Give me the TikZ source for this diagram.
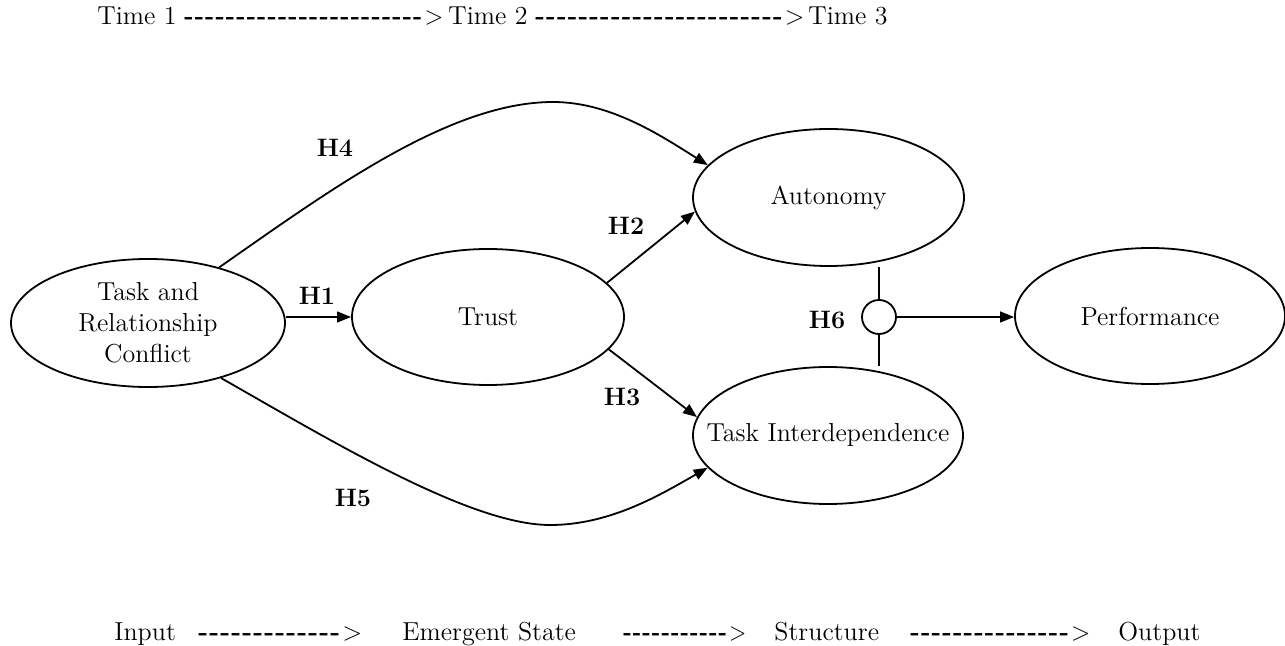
\documentclass[tikz,border=0pt]{standalone}
\usepackage{graphicx}
\usetikzlibrary{arrows.meta,shapes.geometric}
\newcommand\nodefont{\fontsize{13}{15.5}\selectfont}
\newcommand\labfont{\fontsize{12.6}{15.5}\selectfont\bfseries}
\newcommand\dashrow[2]{\resizebox{#1}{\height}{\textbf{\foreach \i in {1,...,#2}{-\kern0.6pt}}\kern0.5pt>}}
\begin{document}
\begin{tikzpicture}[x=0.5pt,y=-0.5pt,
  ell/.style={draw, ellipse, line width=0.9pt, inner sep=0pt, font=\nodefont, align=center},
  lab/.style={font=\labfont, inner sep=0pt},
  txt/.style={font=\nodefont, inner sep=0pt, anchor=base west},
  ln/.style={line width=0.9pt},
  conn/.style={line width=0.9pt, -{Triangle[length=7pt,width=5.4pt]}},
]
\useasboundingbox (0,0) rectangle (1285,646);
\fill[white] (0,0) rectangle (1285,646);

% ellipses
\node[ell, minimum width=137pt, minimum height=64pt] (conf) at (148,323) {Task and\\Relationship\\Conflict};
\node[ell, minimum width=136pt, minimum height=68pt] (trust) at (488,317) {Trust};
\node[ell, minimum width=135.5pt, minimum height=68.5pt] (auto) at (828.5,197.5) {Autonomy};
\node[ell, minimum width=135pt, minimum height=68.5pt] (ti) at (828,435.5) {\makebox[0pt]{Task Interdependence}};
\node[ell, minimum width=135pt, minimum height=68pt] (perf) at (1150,316) {Performance};
\node[draw, circle, line width=0.9pt, minimum size=17pt, inner sep=0pt] (circ) at (879,317) {};

% connectors
\draw[conn] (trust.west -| conf.east) -- (trust.west);
\draw[conn] (trust.16) -- (auto.186.5);
\draw[conn] (trust.-15.5) -- (ti.172);
\draw[conn] (conf.38) .. controls (330,190) and (450,102) .. (553,102)
            .. controls (610,102) and (660,135) .. (auto.165);
\draw[conn] (conf.-37) .. controls (330,440) and (470,525) .. (550,525)
            .. controls (610,525) and (660,495) .. (ti.195);
\draw[ln] (circ.north) -- (circ.north |- auto.south);
\draw[ln] (circ.south) -- (circ.south |- ti.north);
\draw[conn] (circ.east) -- (circ.east -| perf.west);

% labels
\node[lab] (h1) at (317,296) {H1};
\node[lab] (h2) at (626,226) {H2};
\node[lab] (h3) at (622,397) {H3};
\node[lab] (h4) at (335,148) {H4};
\node[lab] (h5) at (353,498) {H5};
\node[lab] (h6) at (827,320) {H6};

% time line
\node[txt] (t1) at (97,25) {Time 1};
\node[txt] (d1) at (184,25) {\dashrow{129.5pt}{23}};
\node[txt] (t2) at (448,25) {Time 2};
\node[txt] (d2) at (535,25) {\dashrow{134.5pt}{23}};
\node[txt] (t3) at (808,25) {Time 3};

% bottom line
\node[txt] (b1) at (114,640) {Input};
\node[txt] (e1) at (198,640) {\dashrow{82pt}{13}};
\node[txt] (b2) at (402,640) {Emergent State};
\node[txt] (e2) at (623,640) {\dashrow{61.5pt}{11}};
\node[txt] (b3) at (774,640) {Structure};
\node[txt] (e3) at (910,640) {\dashrow{90pt}{15}};
\node[txt] (b4) at (1118,640) {Output};
\end{tikzpicture}
\end{document}
